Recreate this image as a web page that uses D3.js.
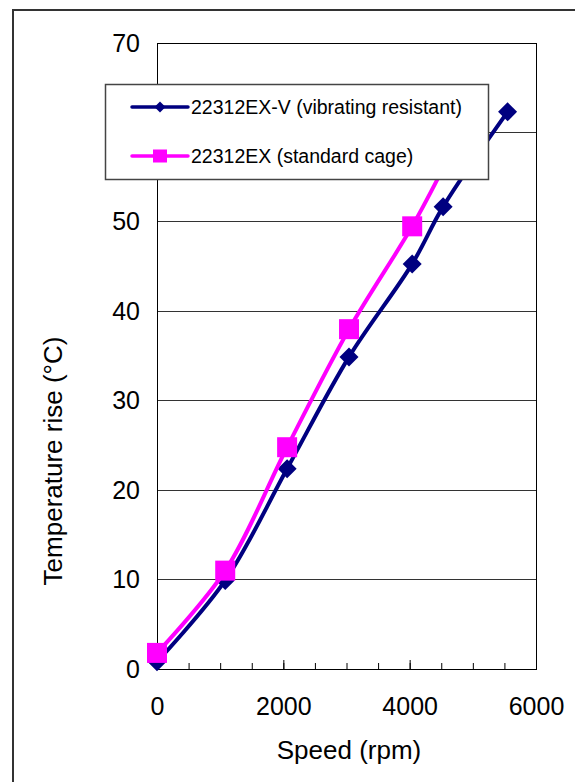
<!DOCTYPE html>
<html>
<head>
<meta charset="utf-8">
<script src="https://cdn.jsdelivr.net/npm/d3@7"></script>
<style>
  body { margin: 0; background: #fff; }
  svg text { font-family: "Liberation Sans", Arial, sans-serif; fill: #000; }
  .axis path, .axis line { stroke: #000; }
</style>
</head>
<body>
<svg id="chart"></svg>
<script>
const speedV = [0, 1080, 2060, 3040, 4040, 4530, 5550];
const tempV = [0.8, 9.9, 22.4, 34.9, 45.3, 51.7, 62.3];
const speedStd = [0, 1080, 2060, 3040, 4040, 4530];
const tempStd = [1.8, 11.0, 24.8, 38.0, 49.5, 56.0];

const seriesNames = ['22312EX-V (vibrating resistant)', '22312EX (standard cage)'];
const xTickLabels = [0, 2000, 4000, 6000];
const yTickLabels = [0, 10, 20, 30, 40, 50, 60, 70];

const width = 575, height = 782;
const margin = {top: 43, left: 157, right: 39, bottom: 113};

const svg = d3.select('#chart')
  .attr('width', width)
  .attr('height', height);

// outer frame (runs off the right and bottom edges)
svg.append('rect')
  .attr('x', 13).attr('y', 10)
  .attr('width', 700).attr('height', 900)
  .attr('fill', 'none')
  .attr('stroke', '#333')
  .attr('stroke-width', 2);

const plotW = width - margin.left - margin.right;
const plotH = height - margin.top - margin.bottom;

const x = d3.scaleLinear().domain([0, 6000]).range([0, plotW]);
const y = d3.scaleLinear().domain([0, 70]).range([plotH, 0]);

const chart = svg.append('g')
  .attr('transform', `translate(${margin.left},${margin.top})`);

// gridlines
chart.append('g')
  .selectAll('line')
  .data(yTickLabels.slice(1, -1))
  .join('line')
  .attr('x1', 0).attr('x2', plotW)
  .attr('y1', d => y(d)).attr('y2', d => y(d))
  .attr('stroke', '#333')
  .attr('stroke-width', 1)
  .attr('shape-rendering', 'crispEdges');

// plot area border
chart.append('rect')
  .attr('width', plotW).attr('height', plotH)
  .attr('fill', 'none')
  .attr('stroke', '#000')
  .attr('stroke-width', 1)
  .attr('shape-rendering', 'crispEdges');

// x axis: inward minor / major ticks
chart.append('g')
  .attr('class', 'axis')
  .attr('transform', `translate(0,${plotH})`)
  .call(d3.axisBottom(x).tickValues(d3.range(0, 6001, 500)).tickSizeInner(-6).tickSizeOuter(0).tickFormat(''))
  .call(g => g.select('.domain').remove());

chart.append('g')
  .attr('class', 'axis')
  .attr('transform', `translate(0,${plotH})`)
  .call(d3.axisBottom(x).tickValues(xTickLabels).tickSizeInner(-9).tickSizeOuter(0).tickFormat(''))
  .call(g => g.select('.domain').remove());

// x tick labels
chart.append('g')
  .attr('class', 'axis')
  .attr('transform', `translate(0,${plotH})`)
  .call(d3.axisBottom(x).tickValues(xTickLabels).tickSize(0).tickPadding(28).tickFormat(d3.format('d')))
  .call(g => g.select('.domain').remove())
  .call(g => g.selectAll('text').attr('font-size', 25).attr('font-family', null));

// y tick labels
chart.append('g')
  .attr('class', 'axis')
  .call(d3.axisLeft(y).tickValues(yTickLabels).tickSize(0).tickPadding(17).tickFormat(d3.format('d')))
  .call(g => g.select('.domain').remove())
  .call(g => g.selectAll('text').attr('font-size', 25).attr('font-family', null));

// axis titles
svg.append('text')
  .attr('x', 349).attr('y', 759)
  .attr('text-anchor', 'middle')
  .attr('font-size', 26)
  .text('Speed (rpm)');

svg.append('text')
  .attr('transform', 'translate(62,461) rotate(-90)')
  .attr('text-anchor', 'middle')
  .attr('font-size', 26)
  .text('Temperature rise (°C)');

// lines
const lineGen = d3.line()
  .x(d => x(d[0]))
  .y(d => y(d[1]))
  .curve(d3.curveCatmullRom);

const dataV = speedV.map((s, i) => [s, tempV[i]]);
const dataStd = speedStd.map((s, i) => [s, tempStd[i]]);

const blue = '#000080', pink = '#ff00ff';
const diamond = (cx, cy, r) => `M${cx},${cy - r}L${cx + r},${cy}L${cx},${cy + r}L${cx - r},${cy}Z`;

chart.append('path')
  .datum(dataV)
  .attr('d', lineGen)
  .attr('fill', 'none')
  .attr('stroke', blue)
  .attr('stroke-width', 4);

chart.append('g')
  .selectAll('path')
  .data(dataV)
  .join('path')
  .attr('d', d => diamond(x(d[0]), y(d[1]), 9.5))
  .attr('fill', blue);

chart.append('path')
  .datum(dataStd)
  .attr('d', lineGen)
  .attr('fill', 'none')
  .attr('stroke', pink)
  .attr('stroke-width', 4);

chart.append('g')
  .selectAll('rect')
  .data(dataStd)
  .join('rect')
  .attr('x', d => x(d[0]) - 10)
  .attr('y', d => y(d[1]) - 10)
  .attr('width', 20).attr('height', 20)
  .attr('fill', pink);

// legend
const legend = svg.append('g');
legend.append('rect')
  .attr('x', 105.5).attr('y', 84.5)
  .attr('width', 383).attr('height', 95)
  .attr('fill', '#fff')
  .attr('stroke', '#444')
  .attr('stroke-width', 1.5);

const legendRows = [
  {name: seriesNames[0], color: blue, cy: 107, marker: 'diamond'},
  {name: seriesNames[1], color: pink, cy: 156, marker: 'square'}
];

legendRows.forEach(r => {
  legend.append('line')
    .attr('x1', 132).attr('x2', 188)
    .attr('y1', r.cy).attr('y2', r.cy)
    .attr('stroke', r.color)
    .attr('stroke-width', 3.5)
    .attr('stroke-linecap', 'round');
  if (r.marker === 'diamond') {
    legend.append('path').attr('d', diamond(160, r.cy, 5.5)).attr('fill', r.color);
  } else {
    legend.append('rect')
      .attr('x', 153).attr('y', r.cy - 6.5)
      .attr('width', 14).attr('height', 13)
      .attr('fill', r.color);
  }
  legend.append('text')
    .attr('x', 191).attr('y', r.cy + 7)
    .attr('font-size', 19.5)
    .text(r.name);
});
</script>
</body>
</html>
